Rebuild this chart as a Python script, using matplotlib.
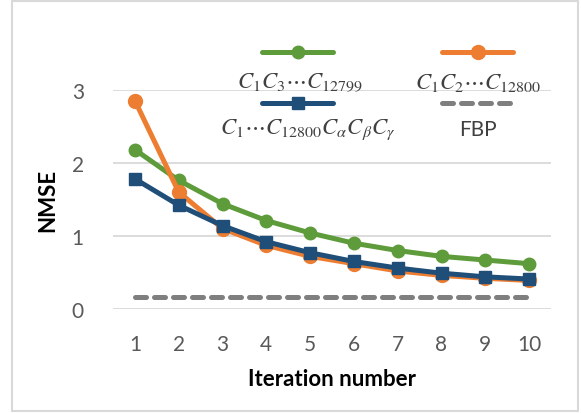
import matplotlib
matplotlib.use("Agg")
import matplotlib.pyplot as plt
from matplotlib.lines import Line2D
from matplotlib.patches import Rectangle

iterations = [1, 2, 3, 4, 5, 6, 7, 8, 9, 10]
odd_vals = [2.18, 1.76, 1.44, 1.21, 1.04, 0.90, 0.80, 0.72, 0.67, 0.62]
all_vals = [2.85, 1.60, 1.10, 0.87, 0.72, 0.62, 0.52, 0.46, 0.42, 0.39]
abc_vals = [1.78, 1.42, 1.14, 0.92, 0.77, 0.65, 0.56, 0.49, 0.44, 0.41]
fbp_val = 0.16
y_ticks = [0, 1, 2, 3]

labels = [r"$C_1C_3\cdots C_{12799}$", r"$C_1C_2\cdots C_{12800}$",
          r"$C_1\cdots C_{12800}C_\alpha C_\beta C_\gamma$", "FBP"]

GREEN = "#5E9B3B"
ORANGE = "#ED7D31"
BLUE = "#1F4E79"
GRAY = "#7F7F7F"
TXT = "#595959"

plt.rcParams["font.family"] = ["Lato", "DejaVu Sans"]
plt.rcParams["mathtext.fontset"] = "stix"

W, H = 581, 414
fig = plt.figure(figsize=(W / 100, H / 100), dpi=100)
fig.patch.set_facecolor("white")

# outer chart frame
fig.patches.append(Rectangle((12 / W, 1 - 412 / H), (578 - 12) / W, (412 - 2) / H,
                             transform=fig.transFigure, fill=False,
                             edgecolor="#D9D9D9", linewidth=1.5))

ax = fig.add_axes([113 / W, 1 - 310 / H, (551 - 113) / W, (310 - 90.7) / H])
ax.set_xlim(0.5, 10.5)
ax.set_ylim(0, 3)
for s in ax.spines.values():
    s.set_visible(False)
ax.set_yticks(y_ticks)
ax.set_xticks(iterations)
ax.tick_params(length=0, labelsize=15, labelcolor=TXT)
ax.tick_params(axis="x", pad=18)
ax.tick_params(axis="y", pad=21)
ax.grid(axis="y", color="#D9D9D9", linewidth=1.3)
ax.set_axisbelow(True)

lw = 3.6
ax.plot(iterations, [fbp_val] * len(iterations), color=GRAY, lw=lw,
        dashes=(2.2, 1.6), dash_capstyle="round", solid_capstyle="round")
ax.plot(iterations, odd_vals, color=GREEN, lw=lw, marker="o", ms=9,
        solid_capstyle="round")
ax.plot(iterations, all_vals, color=ORANGE, lw=lw, marker="o", ms=10,
        solid_capstyle="round")
ax.plot(iterations, abc_vals, color=BLUE, lw=lw, marker="s", ms=9,
        solid_capstyle="round")

ax.set_ylabel("NMSE", fontsize=16, fontweight="bold", labelpad=10)
ax.set_xlabel("Iteration number", fontsize=16, fontweight="bold", labelpad=10)

# Excel-style legend: handle above label
def fx(px):
    return px / W

def fy(py):
    return 1 - py / H

entries = [
    (262, 333, 53, 83, 300, dict(color=GREEN, marker="o", ms=9), labels[0]),
    (442, 513, 53, 83, 478, dict(color=ORANGE, marker="o", ms=10), labels[1]),
    (262, 333, 104, 130, 308, dict(color=BLUE, marker="s", ms=9), labels[2]),
    (442, 513, 104, 130, 478, dict(color=GRAY, dashes=(2.2, 1.6)), labels[3]),
]
for x0, x1, yl, yt, xt, style, lab in entries:
    marker = style.pop("marker", None)
    ms = style.pop("ms", None)
    fig.add_artist(Line2D([fx(x0), fx(x1)], [fy(yl), fy(yl)], transform=fig.transFigure,
                          lw=lw, solid_capstyle="round", dash_capstyle="round", **style))
    if marker:
        fig.add_artist(Line2D([fx((x0 + x1) / 2)], [fy(yl)], transform=fig.transFigure,
                              marker=marker, ms=ms, color=style["color"], lw=0))
    fs = 15 if lab == "FBP" else 16.5
    fig.text(fx(xt), fy(yt), lab, ha="center", va="center", fontsize=fs, color="#404040")

fig.savefig("out.png", dpi=100, facecolor="white")
